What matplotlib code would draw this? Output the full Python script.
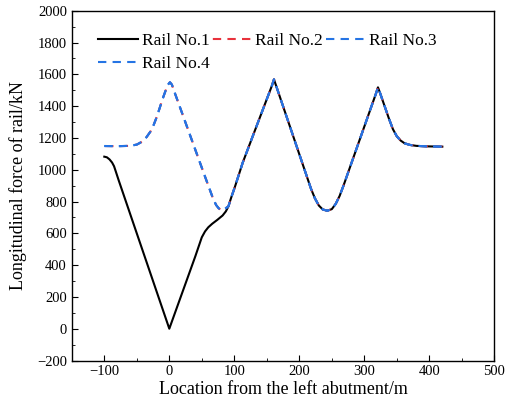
import numpy as np
import matplotlib.pyplot as plt

plt.rcParams['font.family'] = ['Liberation Serif', 'DejaVu Serif']
plt.rcParams['mathtext.fontset'] = 'stix'

# Rail No.1 longitudinal force along the bridge
x1 = [-100, -96, -92, -88, -85, -82, -78, 0, 40, 50, 55, 60, 66, 74, 82, 87, 91, 95, 101, 113,
      158, 161, 164, 218, 224, 230, 236, 243, 250, 256, 262, 268, 318, 321, 324,
      338, 344, 350, 356, 362, 370, 380, 395, 420]
y1 = [1082, 1078, 1065, 1045, 1022, 985, 935, 0, 455, 575, 612, 638, 660, 685, 712, 738, 770, 822, 893, 1045,
      1530, 1568, 1532, 880, 820, 775, 750, 742, 752, 785, 835, 900, 1480, 1518, 1485,
      1320, 1255, 1210, 1183, 1166, 1156, 1150, 1147, 1145]

# Rails No.2-4 (these coincide)
x2 = [-100, -80, -60, -50, -42, -35, -29, -24, -19, -14, -9, -5, -2, 1, 4, 8,
      55, 62, 67, 72, 76, 80, 85, 91, 95, 101, 113,
      158, 161, 164, 218, 224, 230, 236, 243, 250, 256, 262, 268, 318, 321, 324,
      338, 344, 350, 356, 362, 370, 380, 395, 420]
y2 = [1149, 1148, 1150, 1158, 1176, 1205, 1240, 1282, 1335, 1398, 1460, 1505, 1535, 1550, 1535, 1488,
      956, 878, 822, 778, 757, 747, 752, 770, 822, 893, 1045,
      1530, 1568, 1532, 880, 820, 775, 750, 742, 752, 785, 835, 900, 1480, 1518, 1485,
      1320, 1255, 1210, 1183, 1166, 1156, 1150, 1147, 1145]

labels = ['Rail No.1', 'Rail No.2', 'Rail No.3', 'Rail No.4']
colors = ['black', '#e8323c', '#2574e4', '#2574e4']
dash = (0, (4, 3))

fig = plt.figure(figsize=(5.07, 4.12), dpi=100)
ax = fig.add_axes([0.1416, 0.125, 0.8334, 0.849])

h1, = ax.plot(x1, y1, color=colors[0], lw=1.5, label=labels[0])
h2, = ax.plot(x2, y2, color=colors[1], lw=1.5, ls=(6.6, (4, 3)), label=labels[1])
h3, = ax.plot(x2, y2, color=colors[2], lw=1.5, ls=dash, label=labels[2])
h4, = ax.plot(x2, y2, color=colors[3], lw=1.5, ls=dash, label=labels[3])

ax.set_xlim(-150, 500)
ax.set_ylim(-200, 2000)
ax.set_xticks(np.arange(-100, 501, 100))
ax.set_yticks(np.arange(-200, 2001, 200))
ax.set_xticks(np.arange(-150, 501, 50), minor=True)
ax.set_yticks(np.arange(-200, 2001, 100), minor=True)
ax.tick_params(which='both', direction='in', top=False, right=False, labelsize=10.5)
ax.tick_params(which='major', length=4)
ax.tick_params(which='minor', length=2)
for s in ax.spines.values():
    s.set_linewidth(1.0)

ax.set_xlabel('Location from the left abutment/m', fontsize=13, labelpad=2)
ax.set_ylabel('Longitudinal force of rail/kN', fontsize=13, labelpad=7)

# legend filled row by row: 1 2 3 / 4
ax.legend([h1, h4, h2, h3], [labels[0], labels[3], labels[1], labels[2]],
          loc='upper left', ncol=3, frameon=False, fontsize=12.5,
          handlelength=2.3, handletextpad=0.2, columnspacing=0.15,
          labelspacing=0.4, borderpad=0, borderaxespad=0,
          bbox_to_anchor=(0.0627, 0.937))

fig.savefig('out.png', dpi=100)
